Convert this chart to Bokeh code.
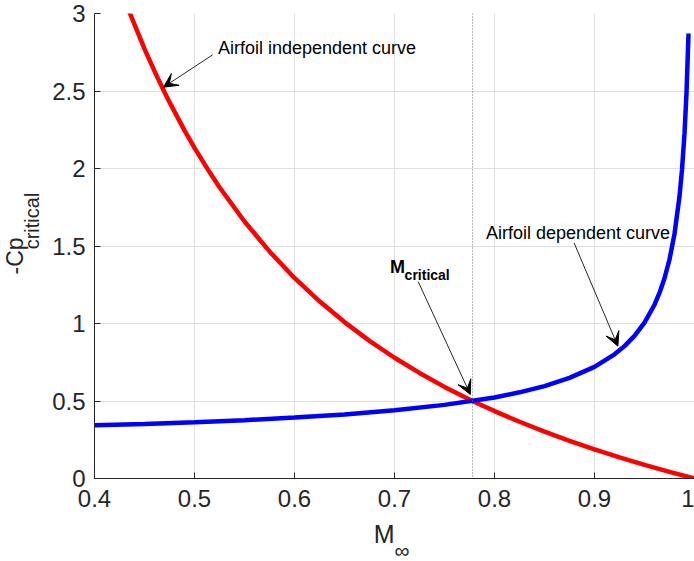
import math
from bokeh.plotting import figure
from bokeh.models import Label, Arrow, VeeHead, Span, FixedTicker, Range1d, Title
from bokeh.embed import file_html
from bokeh.resources import INLINE

# ---- data ----
mach_indep = [0.40, 0.42, 0.434, 0.45, 0.46, 0.47, 0.475, 0.49, 0.50, 0.515, 0.525, 0.55, 0.575,
              0.60, 0.625, 0.65, 0.675, 0.70, 0.725, 0.75, 0.78, 0.80, 0.825, 0.85, 0.875,
              0.90, 0.925, 0.95, 0.975, 1.00]
cp_indep = [3.662, 3.268, 3.024, 2.772, 2.628, 2.492, 2.428, 2.246, 2.133, 1.977, 1.879, 1.658, 1.465,
            1.294, 1.143, 1.009, 0.888, 0.779, 0.681, 0.591, 0.494, 0.435, 0.366, 0.302, 0.243,
            0.188, 0.136, 0.088, 0.043, 0.000]

mach_dep = [0.40, 0.45, 0.50, 0.55, 0.60, 0.65, 0.70, 0.75, 0.80, 0.825, 0.85, 0.875,
            0.90, 0.92, 0.93, 0.94, 0.95, 0.96, 0.965, 0.97, 0.975, 0.98, 0.985,
            0.9875, 0.99, 0.992, 0.994]
cp_dep = [0.343, 0.352, 0.363, 0.376, 0.393, 0.413, 0.440, 0.475, 0.523, 0.556, 0.596, 0.649,
          0.720, 0.801, 0.854, 0.920, 1.006, 1.121, 1.197, 1.292, 1.413, 1.578, 1.820,
          1.992, 2.226, 2.487, 2.871]

m_critical = 0.778

x_ticks = [0.4, 0.5, 0.6, 0.7, 0.8, 0.9, 1.0]
x_tick_labels = ["0.4", "0.5", "0.6", "0.7", "0.8", "0.9", "1"]
y_ticks = [0, 0.5, 1, 1.5, 2, 2.5, 3]
y_tick_labels = ["0", "0.5", "1", "1.5", "2", "2.5", "3"]

# annotation anchor positions (data coordinates)
note_indep_text = (0.5234, 2.778)
note_indep_arrow = (0.5181, 2.733, 0.469, 2.525)
note_dep_text = (0.7914, 1.582)
note_dep_arrow = (0.8796, 1.52, 0.9234, 0.8535)
note_mcrit_text = (0.6955, 1.363)
note_mcrit_sub = (0.7101, 1.311)
note_mcrit_arrow = (0.7237, 1.27, 0.7758, 0.542)

FONT = "Liberation Sans"
AX = "#262626"
NB = "\u00a0"

p = figure(width=694, height=561, output_backend="svg", toolbar_location=None,
           x_range=Range1d(0.4, 1.0), y_range=Range1d(0, 3),
           min_border_left=94, min_border_right=0, min_border_top=13, min_border_bottom=83)
p.outline_line_color = None
p.background_fill_color = "white"
p.border_fill_color = "white"

for ax, ticks, labels in ((p.xaxis[0], x_ticks, x_tick_labels), (p.yaxis[0], y_ticks, y_tick_labels)):
    ax.ticker = FixedTicker(ticks=ticks)
    ax.major_label_overrides = {t: l for t, l in zip(ticks, labels)}
    ax.axis_line_color = AX
    ax.axis_line_width = 1
    ax.major_tick_line_color = AX
    ax.major_tick_in = 6
    ax.major_tick_out = 0
    ax.minor_tick_line_color = None
    ax.major_label_text_font = FONT
    ax.major_label_text_font_size = "24px"
    ax.major_label_text_color = AX
    ax.axis_label_text_font = FONT
    ax.axis_label_text_font_style = "normal"
    ax.axis_label_text_color = AX
p.xaxis.major_label_standoff = 11
p.yaxis.major_label_standoff = 9

# x title "M" (subscript infinity added below as a Title)
p.xaxis.axis_label = "M" + NB * 3
p.xaxis.axis_label_text_font_size = "25px"
p.xaxis.axis_label_standoff = 10

# y title subscript "critical" as the axis label, "-Cp" as a Title further out
p.yaxis.axis_label = NB * 9 + "critical"
p.yaxis.axis_label_text_font_size = "20px"
p.yaxis.axis_label_standoff = 6

p.add_layout(Title(text="-Cp", align="left", offset=204, standoff=-18,
                   text_font=FONT, text_font_size="23px", text_font_style="normal",
                   text_color=AX), "left")
p.add_layout(Title(text="\u221e", align="left", offset=300, standoff=-24, vertical_align="top",
                   text_font=FONT, text_font_size="21px", text_font_style="normal",
                   text_color=AX), "below")

p.grid.grid_line_color = "#dfdfdf"
p.grid.grid_line_width = 1

p.add_layout(Span(location=m_critical, dimension="height", line_color="#707070",
                  line_dash="1 2", line_width=1))

p.line(mach_indep, cp_indep, line_color="#ff0000", line_width=4.5)
p.line(mach_dep, cp_dep, line_color="#0000ff", line_width=4.5)

def add_arrow(coords):
    xs, ys, xe, ye = coords
    p.add_layout(Arrow(end=VeeHead(size=14, fill_color="black", line_color="black", line_width=1),
                       x_start=xs, y_start=ys, x_end=xe, y_end=ye,
                       line_color="#262626", line_width=1))

add_arrow(note_indep_arrow)
add_arrow(note_dep_arrow)
add_arrow(note_mcrit_arrow)

def add_text(pos, txt, size, bold=False):
    p.add_layout(Label(x=pos[0], y=pos[1], text=txt, text_font=FONT,
                       text_font_size=size, text_color="black",
                       text_font_style="bold" if bold else "normal",
                       text_align="left", text_baseline="alphabetic"))

add_text(note_indep_text, "Airfoil independent curve", "18px")
add_text(note_dep_text, "Airfoil dependent curve", "18px")
add_text(note_mcrit_text, "M", "18px", bold=True)
add_text(note_mcrit_sub, "critical", "14px", bold=True)

open("out.html", "w").write(file_html(p, INLINE))
